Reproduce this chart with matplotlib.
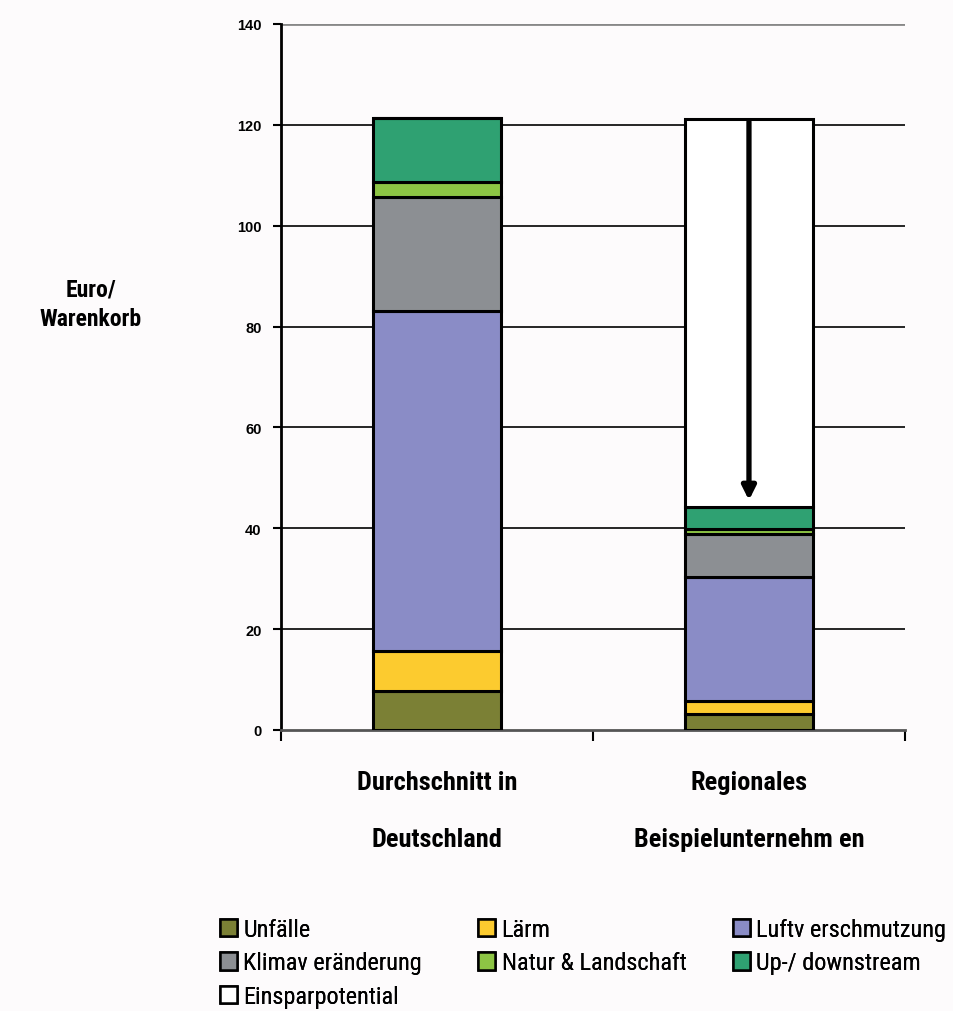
import matplotlib.pyplot as plt
from matplotlib.patches import Patch

categories = ["Durchschnitt in\nDeutschland", "Regionales\nBeispielunternehm en"]
series_names = ["Unfälle", "Lärm", "Luftv erschmutzung", "Klimav eränderung",
                "Natur & Landschaft", "Up-/ downstream", "Einsparpotential"]
unfaelle = [7.7, 3.2]
laerm = [8.0, 2.6]
luft = [67.4, 24.6]
klima = [22.5, 8.4]
natur = [3.1, 1.0]
updown = [12.6, 4.4]
einsparen = [0.0, 77.0]
colors = ["#7b8035", "#fccb2f", "#8a8cc6", "#8c8f93", "#8dc544", "#2fa172", "#ffffff"]
y_ticks = [0, 20, 40, 60, 80, 100, 120, 140]

narrow = ["Roboto Condensed", "Liberation Sans"]
bg = "#fdfbfc"

fig = plt.figure(figsize=(9.54, 10.12), dpi=100)
fig.patch.set_facecolor(bg)
ax = fig.add_axes([0.2945, 0.2777, 0.6541, 0.6976])
ax.set_facecolor(bg)

x = [0, 1]
bottom = [0.0, 0.0]
for vals, col in zip([unfaelle, laerm, luft, klima, natur, updown, einsparen], colors):
    ax.bar(x, vals, width=0.41, bottom=bottom, color=col, edgecolor="black",
           linewidth=2.2, zorder=3)
    bottom = [b + v for b, v in zip(bottom, vals)]

# Pfeil: vom Durchschnitt bis auf den Wert des Beispielunternehmens
rest = sum(v[1] for v in [unfaelle, laerm, luft, klima, natur, updown])
ax.annotate("", xy=(1, rest + 0.8), xytext=(1, bottom[1]),
            arrowprops=dict(arrowstyle="-|>,head_width=0.4,head_length=0.8",
                            color="black", lw=3.8), zorder=4)

ax.set_xlim(-0.5, 1.5)
ax.set_ylim(0, 140)
ax.set_yticks(y_ticks)
ax.set_yticklabels([str(t) for t in y_ticks], fontsize=10.5, fontweight="bold",
                   family="Liberation Sans")
for t in y_ticks[1:-1]:
    ax.axhline(t, color="black", lw=1.2, zorder=1)
ax.axhline(140, color="#888888", lw=2, zorder=1)

ax.set_xticks([-0.5, 0.5, 1.5])
ax.set_xticklabels([])
ax.tick_params(axis="x", length=8, width=1.5, direction="out")
ax.tick_params(axis="y", length=6, width=1.5, direction="out", pad=8)
for c, lab in zip(x, categories):
    ax.text(c, -8.0, lab, ha="center", va="top", fontsize=19, fontweight="bold",
            family=narrow, linespacing=2.7)

for s in ["top", "right"]:
    ax.spines[s].set_visible(False)
ax.spines["left"].set_linewidth(2)
ax.spines["bottom"].set_linewidth(2)
ax.spines["bottom"].set_color("#555555")

fig.text(0.095, 0.699, "Euro/\nWarenkorb", ha="center", va="center",
         fontsize=17, fontweight="bold", family=narrow, linespacing=1.35)

handles = {n: Patch(facecolor=c, edgecolor="black", linewidth=1.8)
           for c, n in zip(colors, series_names)}
columns = [
    (0.2305, ["Unfälle", "Klimav eränderung", "Einsparpotential"]),
    (0.501, ["Lärm", "Natur & Landschaft"]),
    (0.768, ["Luftv erschmutzung", "Up-/ downstream"]),
]
for xpos, labs in columns:
    leg = fig.legend([handles[n] for n in labs], labs, loc="upper left",
                     bbox_to_anchor=(xpos, 0.092), frameon=False,
                     prop={"family": narrow, "size": 17.5},
                     handlelength=0.72, handleheight=0.72, handletextpad=0.25,
                     labelspacing=0.43, borderaxespad=0, borderpad=0)
    fig.add_artist(leg)

fig.savefig("out.png", dpi=100, facecolor=fig.get_facecolor())
